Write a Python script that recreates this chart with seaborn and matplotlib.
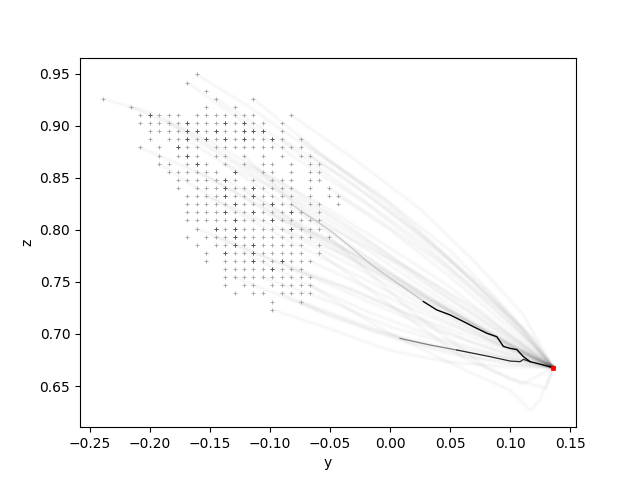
import numpy as np
import pandas as pd
import matplotlib
matplotlib.use("Agg")
import matplotlib.pyplot as plt
import seaborn as sns

# ---------------- data ----------------
# grid column positions (y) for column indices -4 .. 21
col_index = list(range(-4, 22))
col_y = [-0.2395, -0.2317, -0.2238, -0.2160, -0.2081, -0.2002, -0.1924, -0.1845,
         -0.1767, -0.1688, -0.1609, -0.1531, -0.1452, -0.1374, -0.1295, -0.1216,
         -0.1138, -0.1059, -0.0981, -0.0902, -0.0823, -0.0745, -0.0666, -0.0588,
         -0.0509, -0.0430]
# grid row positions (z) for row indices -5 .. 24
row_index = list(range(-5, 25))
row_z = [0.9493, 0.9415, 0.9337, 0.9259, 0.9181, 0.9103, 0.9025, 0.8947, 0.8869,
         0.8791, 0.8713, 0.8636, 0.8558, 0.8480, 0.8402, 0.8324, 0.8246, 0.8168,
         0.8090, 0.8012, 0.7935, 0.7857, 0.7779, 0.7701, 0.7623, 0.7545, 0.7467,
         0.7389, 0.7311, 0.7233]
# which columns hold a start point in each row
row_cols = {
    -5: [6], -4: [5], -3: [7], -2: [-4, 8, 12], -1: [-1, 7, 10],
    0: [0, 1, 2, 3, 4, 6, 7, 8, 9, 10, 11, 12, 16],
    1: [0, 1, 2, 3, 4, 5, 6, 7, 8, 9, 10, 11, 12, 13, 15],
    2: [1, 2, 3, 4, 5, 6, 7, 8, 9, 10, 11, 12, 13, 15],
    3: [1, 3, 4, 5, 6, 7, 8, 9, 10, 11, 12, 13, 14, 15, 17],
    4: [0, 2, 4, 5, 6, 8, 9, 10, 11, 12, 13, 14, 15, 16, 17],
    5: [2, 4, 5, 6, 8, 9, 11, 13, 15, 17, 18],
    6: [2, 3, 5, 6, 7, 9, 11, 13, 14, 16, 18, 19],
    7: [3, 4, 5, 6, 7, 8, 10, 13, 14, 16, 18, 19],
    8: [4, 5, 6, 7, 8, 9, 10, 12, 14, 15, 16, 18, 19],
    9: [4, 6, 7, 8, 9, 10, 11, 12, 13, 14, 15, 16, 18, 20],
    10: [5, 6, 7, 8, 9, 10, 11, 12, 13, 14, 15, 16, 18, 20, 21],
    11: [5, 6, 7, 8, 9, 10, 11, 12, 13, 14, 15, 16, 18, 19, 21],
    12: [5, 6, 7, 8, 9, 10, 11, 12, 13, 14, 15, 16, 17, 19],
    13: [5, 6, 7, 8, 9, 10, 11, 12, 13, 14, 15, 16, 17, 18, 19],
    14: [6, 8, 9, 10, 11, 12, 13, 14, 15, 16, 17, 18, 19],
    15: [5, 7, 8, 9, 10, 11, 12, 13, 14, 15, 16, 17, 18, 20],
    16: [6, 8, 9, 10, 11, 12, 13, 14, 15, 16, 17, 19],
    17: [7, 9, 10, 11, 12, 13, 14, 15, 16, 17, 19],
    18: [7, 9, 10, 11, 12, 13, 14, 15, 16, 17, 18],
    19: [9, 10, 11, 12, 13, 14, 15, 16, 17],
    20: [9, 10, 11, 12, 13, 14, 15, 16, 17, 18],
    21: [9, 11, 12, 14, 15, 16, 17, 18],
    22: [10, 12, 13, 15, 16, 17, 18],
    23: [14, 17],
    24: [14],
}
# start points that appear darker (row, col)
dark_points = [(0, 1), (1, 5), (1, 9), (1, 11), (2, 5), (2, 6), (2, 8), (2, 11),
               (2, 12), (2, 13), (3, 5), (3, 7), (3, 9), (3, 11), (3, 14), (4, 4),
               (5, 5), (6, 6), (7, 10), (8, 9), (9, 9), (9, 12), (10, 9), (10, 12),
               (11, 10), (11, 14), (12, 9), (12, 12), (12, 16), (13, 10), (13, 14),
               (14, 8), (14, 10), (14, 16), (15, 10), (16, 10), (16, 12), (17, 9),
               (17, 12), (18, 12), (18, 15), (19, 14)]

# goal point
target_y = 0.1361
target_z = 0.6676

# faint trajectories (y, z); each ends at the goal
faint_paths = [
    [(-0.0823, 0.9103), (-0.030, 0.868), (0.025, 0.820), (0.070, 0.770), (0.110, 0.720)],
    [(-0.0902, 0.8869), (-0.040, 0.852), (0.020, 0.800), (0.070, 0.750), (0.110, 0.705)],
    [(-0.0509, 0.8402), (-0.010, 0.810), (0.040, 0.770), (0.090, 0.720), (0.120, 0.690)],
    [(-0.0430, 0.8324), (0.000, 0.800), (0.050, 0.755), (0.095, 0.710)],
    [(-0.1138, 0.9259), (-0.060, 0.875), (0.000, 0.825), (0.050, 0.772), (0.100, 0.715)],
    [(-0.1452, 0.9259), (-0.090, 0.885), (-0.030, 0.835), (0.030, 0.785), (0.090, 0.722)],
    [(-0.0745, 0.8869), (-0.020, 0.840), (0.030, 0.792), (0.080, 0.742), (0.115, 0.700)],
    [(-0.0666, 0.8713), (-0.015, 0.830), (0.040, 0.780), (0.090, 0.728), (0.120, 0.695)],
    [(-0.1216, 0.8713), (-0.080, 0.825), (-0.030, 0.782), (0.030, 0.735), (0.080, 0.700)],
    [(-0.1374, 0.8480), (-0.085, 0.812), (-0.028, 0.776), (0.028, 0.732), (0.075, 0.705)],
    [(-0.1216, 0.8402), (-0.070, 0.800), (-0.020, 0.770), (0.040, 0.730), (0.090, 0.695)],
    [(-0.1688, 0.8869), (-0.110, 0.842), (-0.050, 0.797), (0.010, 0.752), (0.070, 0.710)],
    [(-0.1059, 0.8168), (-0.050, 0.790), (0.000, 0.757), (0.050, 0.722), (0.100, 0.690)],
    [(-0.0902, 0.8012), (-0.040, 0.777), (0.010, 0.746), (0.060, 0.716), (0.105, 0.685)],
    [(-0.1531, 0.8324), (-0.090, 0.800), (-0.030, 0.765), (0.030, 0.726), (0.085, 0.695)],
    [(-0.1845, 0.9025), (-0.120, 0.857), (-0.060, 0.812), (0.000, 0.766), (0.060, 0.720)],
    [(-0.1216, 0.8636), (-0.060, 0.826), (-0.010, 0.790), (0.050, 0.745), (0.100, 0.700)],
    [(-0.0745, 0.8168), (-0.030, 0.790), (0.020, 0.760), (0.070, 0.725), (0.110, 0.690)],
    [(-0.1374, 0.8636), (-0.080, 0.830), (-0.020, 0.787), (0.040, 0.740), (0.095, 0.700)],
    [(-0.1609, 0.8558), (-0.100, 0.818), (-0.040, 0.780), (0.020, 0.740), (0.080, 0.703)],
    [(-0.0823, 0.7623), (-0.030, 0.742), (0.020, 0.716), (0.070, 0.691), (0.110, 0.676)],
    [(-0.1059, 0.7545), (-0.050, 0.731), (0.000, 0.707), (0.050, 0.690), (0.100, 0.676)],
    [(-0.0902, 0.7389), (-0.050, 0.717), (0.000, 0.697), (0.050, 0.681), (0.100, 0.671)],
    [(-0.1216, 0.7779), (-0.070, 0.748), (-0.020, 0.722), (0.040, 0.696), (0.090, 0.680)],
    [(-0.0981, 0.7233), (-0.050, 0.705), (0.000, 0.684), (0.050, 0.673), (0.090, 0.669)],
    [(-0.1452, 0.7935), (-0.080, 0.762), (-0.020, 0.732), (0.040, 0.703), (0.090, 0.684)],
    [(-0.1295, 0.7545), (-0.070, 0.727), (-0.010, 0.702), (0.050, 0.686), (0.100, 0.676)],
    [(-0.1609, 0.8012), (-0.100, 0.772), (-0.040, 0.746), (0.020, 0.717), (0.080, 0.692)],
    [(-0.0745, 0.7311), (-0.030, 0.712), (0.020, 0.692), (0.070, 0.678), (0.110, 0.671)],
    [(-0.0666, 0.7701), (-0.020, 0.745), (0.030, 0.718), (0.080, 0.695), (0.115, 0.680)],
    [(-0.0666, 0.7467), (0.000, 0.700), (0.069, 0.662), (0.100, 0.646), (0.117, 0.6266), (0.125, 0.637)],
    [(-0.0509, 0.7935), (0.020, 0.720), (0.080, 0.668), (0.110, 0.652)],
    [(-0.0588, 0.7779), (0.000, 0.728), (0.060, 0.678), (0.100, 0.657), (0.130, 0.648)],
    [(-0.2395, 0.9259), (-0.200, 0.913), (-0.150, 0.885), (-0.090, 0.845), (-0.030, 0.800), (0.030, 0.750), (0.080, 0.710)],
    [(-0.2160, 0.9181), (-0.170, 0.895), (-0.120, 0.860), (-0.060, 0.820), (0.000, 0.775), (0.060, 0.730), (0.110, 0.690)],
    [(-0.2081, 0.8791), (-0.150, 0.850), (-0.090, 0.810), (-0.030, 0.770), (0.030, 0.730), (0.090, 0.690)],
    [(-0.1609, 0.9493), (-0.120, 0.920), (-0.070, 0.880), (-0.010, 0.835), (0.050, 0.780), (0.100, 0.720)],
    [(-0.1924, 0.8636), (-0.140, 0.825), (-0.080, 0.787), (-0.020, 0.752), (0.040, 0.716), (0.100, 0.685)],
    [(-0.1688, 0.9415), (-0.130, 0.910), (-0.080, 0.870), (-0.020, 0.825), (0.040, 0.772), (0.095, 0.720)],
]
# medium grey strand feeding the dark path
grey_strand = [(-0.0823, 0.8246), (-0.047, 0.797), (-0.014, 0.765), (0.0222, 0.736), (0.0278, 0.7311)]
# dark path (upper)
dark_path_a = [(0.0278, 0.7311), (0.0389, 0.7231), (0.0500, 0.7183), (0.0556, 0.7151),
               (0.0639, 0.7103), (0.0694, 0.7070), (0.0806, 0.7007), (0.0889, 0.6974),
               (0.0944, 0.6880), (0.1000, 0.6862), (0.1056, 0.6850), (0.1111, 0.6782),
               (0.1167, 0.6734), (0.1222, 0.6718), (0.1361, 0.6676)]
# lower path: grey part then dark part
grey_path_b = [(0.0083, 0.6958), (0.0333, 0.6894), (0.0556, 0.6846)]
dark_path_b = [(0.0556, 0.6846), (0.0833, 0.6782), (0.1000, 0.6740), (0.1083, 0.6734),
               (0.1111, 0.6756), (0.1167, 0.6734)]

# ---------------- build tables ----------------
cy = dict(zip(col_index, col_y))
rz = dict(zip(row_index, row_z))
pts = pd.DataFrame([(cy[c], rz[r]) for r, cols in row_cols.items() for c in cols],
                   columns=["y", "z"])
dpts = pd.DataFrame([(cy[c], rz[r]) for r, c in dark_points], columns=["y", "z"])

def paths_frame(paths, add_target=True):
    rows = []
    for i, p in enumerate(paths):
        seq = list(p) + ([(target_y, target_z)] if add_target else [])
        for k, (a, b) in enumerate(seq):
            rows.append((i, k, a, b))
    return pd.DataFrame(rows, columns=["path", "step", "y", "z"])

faint_df = paths_frame(faint_paths)

# ---------------- draw ----------------
fig, ax = plt.subplots(figsize=(6.4, 4.8), dpi=100)

sns.lineplot(data=faint_df, x="y", y="z", units="path", estimator=None, sort=False,
             color="black", alpha=0.018, linewidth=3.0, ax=ax, legend=False)
sns.lineplot(data=faint_df, x="y", y="z", units="path", estimator=None, sort=False,
             color="black", alpha=0.03, linewidth=0.5, ax=ax, legend=False)
sns.lineplot(data=paths_frame([grey_strand], False), x="y", y="z", units="path",
             estimator=None, sort=False, color="0.6", alpha=0.5, linewidth=0.8,
             ax=ax, legend=False)
sns.lineplot(data=paths_frame([grey_path_b], False), x="y", y="z", units="path",
             estimator=None, sort=False, color="0.5", linewidth=0.9, ax=ax, legend=False)
sns.lineplot(data=paths_frame([dark_path_b], False), x="y", y="z", units="path",
             estimator=None, sort=False, color="0.15", linewidth=0.9, ax=ax, legend=False)
sns.lineplot(data=paths_frame([dark_path_a], False), x="y", y="z", units="path",
             estimator=None, sort=False, color="black", linewidth=1.0, ax=ax, legend=False)

sns.scatterplot(data=pts, x="y", y="z", marker="+", s=7, color="0.6", linewidth=0.6,
                alpha=0.9, ax=ax, legend=False, zorder=3)
sns.scatterplot(data=dpts, x="y", y="z", marker="+", s=7, color="0.35", linewidth=0.7,
                ax=ax, legend=False, zorder=4)
sns.scatterplot(x=[target_y], y=[target_z], marker="s", s=10, color="red",
                edgecolor="red", linewidth=0.5, ax=ax, legend=False, zorder=5)

ax.set_xlabel("y")
ax.set_ylabel("z")
ax.set_xticks([-0.25, -0.20, -0.15, -0.10, -0.05, 0.00, 0.05, 0.10, 0.15])
ax.set_yticks([0.65, 0.70, 0.75, 0.80, 0.85, 0.90, 0.95])
ax.margins(0.05)

fig.savefig("out.png", dpi=100)
